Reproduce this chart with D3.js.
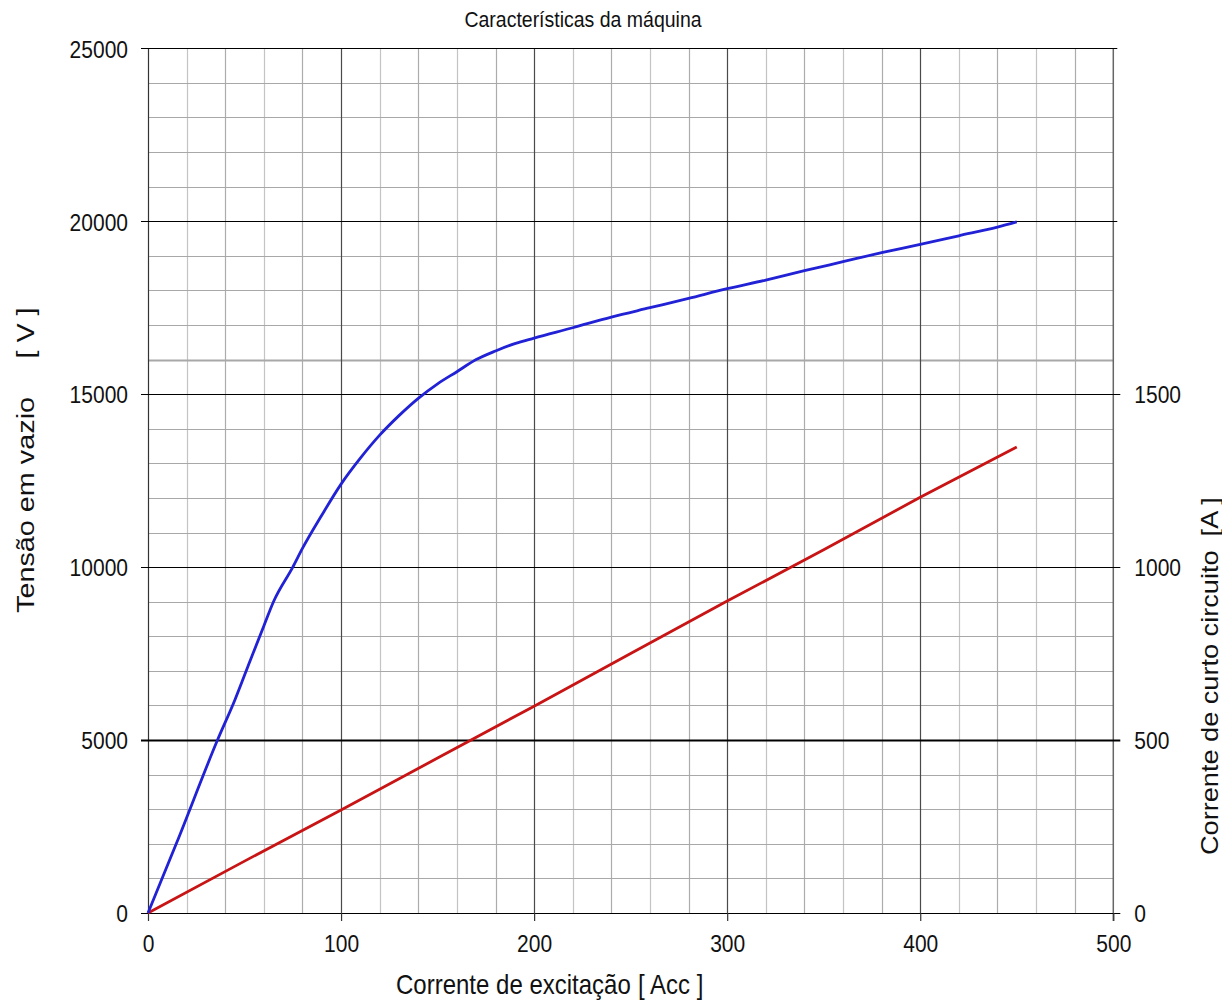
<!DOCTYPE html>
<html>
<head>
<meta charset="utf-8">
<script src="https://cdn.jsdelivr.net/npm/d3@7"></script>
<style>
  html, body { margin: 0; padding: 0; background: #fff; }
  svg { display: block; }
  text { font-family: "Liberation Sans", Arial, sans-serif; fill: #111; }
</style>
</head>
<body>
<svg id="chart" width="1222" height="1005"></svg>
<script>
// ---------------- data ----------------
const chartTitle = "Características da máquina";
const xTitle = "Corrente de excitação";
const xUnit = "[ Acc ]";
const yLeftTitle = "Tensão em vazio";
const yLeftUnit = "[ V ]";
const yRightTitle = "Corrente de curto circuito";
const yRightUnit = "[A ]";

const xTicks = [0, 100, 200, 300, 400, 500];
const yLeftTicks = [0, 5000, 10000, 15000, 20000, 25000];
const yRightTicks = [0, 500, 1000, 1500];

// open-circuit characteristic (blue), left axis
const ocExcitation = [0, 15, 36, 45, 53, 60, 65, 75, 80, 90, 100, 110, 120, 130, 140, 150, 160, 170, 180, 190, 200, 220, 240, 260, 280, 300, 320, 340, 360, 380, 400, 420, 440, 450];
const ocVoltage = [0, 2050, 5000, 6160, 7310, 8300, 9000, 10000, 10540, 11500, 12400, 13150, 13815, 14380, 14880, 15300, 15650, 16000, 16250, 16460, 16620, 16920, 17230, 17500, 17770, 18050, 18300, 18570, 18830, 19090, 19330, 19580, 19830, 19980];

// short-circuit characteristic (red), right axis
const scExcitation = [0, 50, 100, 150, 200, 250, 300, 350, 400, 450];
const scCurrent = [0, 150, 298, 448, 598, 750, 902, 1050, 1202, 1347];

// ---------------- layout ----------------
const W = 1222, H = 1005;
const L = 148, R = 1113.3, T = 48.3, B = 913;
const svg = d3.select("#chart");

const x = d3.scaleLinear().domain([0, 500]).range([L, R]);
const yL = d3.scaleLinear().domain([0, 25000]).range([B, T]);
const yR = d3.scaleLinear().domain([0, 2500]).range([B, T]);

const SY = 1.17; // vertical stretch of the reference text

// ---------------- grid ----------------
const grid = svg.append("g");
// vertical minor lines
grid.selectAll("line.vmin")
  .data(d3.range(20, 500, 20).filter(v => v % 100 !== 0))
  .join("line")
  .attr("x1", d => Math.round(x(d)) + 0.5).attr("x2", d => Math.round(x(d)) + 0.5)
  .attr("y1", T).attr("y2", B)
  .attr("stroke", (d, i) => (i % 2 === 0 ? "#c4c4c4" : "#acacac"))
  .attr("stroke-width", 1.2);
// horizontal minor lines
grid.selectAll("line.hmin")
  .data(d3.range(1000, 25000, 1000).filter(v => v % 5000 !== 0))
  .join("line")
  .attr("x1", L).attr("x2", R)
  .attr("y1", d => Math.round(yL(d)) + 0.5).attr("y2", d => Math.round(yL(d)) + 0.5)
  .attr("stroke", "#a8a8a8")
  .attr("stroke-width", d => (d === 16000 ? 2 : 1));
// vertical major lines
grid.selectAll("line.vmaj")
  .data(xTicks.filter(v => v > 0 && v < 500))
  .join("line")
  .attr("x1", d => Math.round(x(d)) + 0.5).attr("x2", d => Math.round(x(d)) + 0.5)
  .attr("y1", T).attr("y2", B)
  .attr("stroke", "#4a4a4a").attr("stroke-width", 1.2);
// frame sides
grid.append("line").attr("x1", L + 0.5).attr("x2", L + 0.5).attr("y1", T).attr("y2", B)
  .attr("stroke", "#333").attr("stroke-width", 1.2);
grid.append("line").attr("x1", R).attr("x2", R).attr("y1", T).attr("y2", B + 8)
  .attr("stroke", "#666").attr("stroke-width", 1.5);
// horizontal major lines (with left ticks)
grid.selectAll("line.hmaj")
  .data(yLeftTicks)
  .join("line")
  .attr("x1", L - 7)
  .attr("x2", d => (d <= 15000 ? R + 7 : R + 4))
  .attr("y1", d => Math.round(yL(d)) + 0.5).attr("y2", d => Math.round(yL(d)) + 0.5)
  .attr("stroke", "#000")
  .attr("stroke-width", d => (d === 5000 ? 2 : 1.1));

// ---------------- axes (labels + bottom ticks) ----------------
function stretchLabels(sel, baselineFn) {
  sel.selectAll(".tick text").each(function (d) {
    const t = d3.select(this);
    const b = baselineFn(d);
    t.attr("x", null).attr("y", null).attr("dy", null)
      .attr("transform", `translate(${b[0]},${b[1]}) scale(1,${SY})`);
  });
}

const xAxis = svg.append("g").attr("transform", `translate(0,${B})`)
  .call(d3.axisBottom(x).tickValues(xTicks).tickSize(8).tickSizeOuter(0).tickFormat(d3.format("d")));
xAxis.select(".domain").remove();
xAxis.selectAll(".tick line").attr("stroke", "#333").attr("stroke-width", 1.2);
xAxis.selectAll(".tick text").attr("font-size", 21).attr("fill", "#111")
  .style("font-family", "'Liberation Sans', Arial, sans-serif");
stretchLabels(xAxis, d => [0, 39]);

const yAxisL = svg.append("g").attr("transform", `translate(${L},0)`)
  .call(d3.axisLeft(yL).tickValues(yLeftTicks).tickSize(0).tickFormat(d3.format("d")));
yAxisL.select(".domain").remove();
yAxisL.selectAll(".tick text").attr("font-size", 21).attr("fill", "#111").attr("text-anchor", "end")
  .style("font-family", "'Liberation Sans', Arial, sans-serif");
stretchLabels(yAxisL, d => [-20, 8.8]);

const yAxisR = svg.append("g").attr("transform", `translate(${R},0)`)
  .call(d3.axisRight(yR).tickValues(yRightTicks).tickSize(0).tickFormat(d3.format("d")));
yAxisR.select(".domain").remove();
yAxisR.selectAll(".tick text").attr("font-size", 21).attr("fill", "#111").attr("text-anchor", "start")
  .style("font-family", "'Liberation Sans', Arial, sans-serif");
stretchLabels(yAxisR, d => [21, 8.8]);

// ---------------- series ----------------
const ocData = ocExcitation.map((e, i) => [e, ocVoltage[i]]);
const scData = scExcitation.map((e, i) => [e, scCurrent[i]]);

svg.append("path")
  .datum(scData)
  .attr("fill", "none").attr("stroke", "#c81414").attr("stroke-width", 2.8)
  .attr("d", d3.line().x(d => x(d[0])).y(d => yR(d[1])));

svg.append("path")
  .datum(ocData)
  .attr("fill", "none").attr("stroke", "#2121d6").attr("stroke-width", 2.8)
  .attr("d", d3.line().curve(d3.curveMonotoneX).x(d => x(d[0])).y(d => yL(d[1])));

// ---------------- titles ----------------
svg.append("text")
  .attr("transform", `translate(583,26.5) scale(1,1.15)`)
  .attr("text-anchor", "middle").attr("font-size", 19.5)
  .text(chartTitle);

const xt = svg.append("text")
  .attr("transform", `translate(396,994) scale(1,1.15)`)
  .attr("font-size", 24);
xt.append("tspan").attr("x", 0).text(xTitle);
xt.append("tspan").attr("x", 242).text(xUnit);

const ylt = svg.append("text")
  .attr("transform", `translate(34,613) rotate(-90) scale(1.2,1)`)
  .attr("font-size", 24);
ylt.append("tspan").attr("x", 0).text(yLeftTitle);
ylt.append("tspan").attr("x", 212).text(yLeftUnit);

const yrt = svg.append("text")
  .attr("transform", `translate(1218,855) rotate(-90) scale(1.18,1)`)
  .attr("font-size", 23);
yrt.append("tspan").attr("x", 0).text(yRightTitle);
yrt.append("tspan").attr("x", 270).text(yRightUnit);
</script>
</body>
</html>
